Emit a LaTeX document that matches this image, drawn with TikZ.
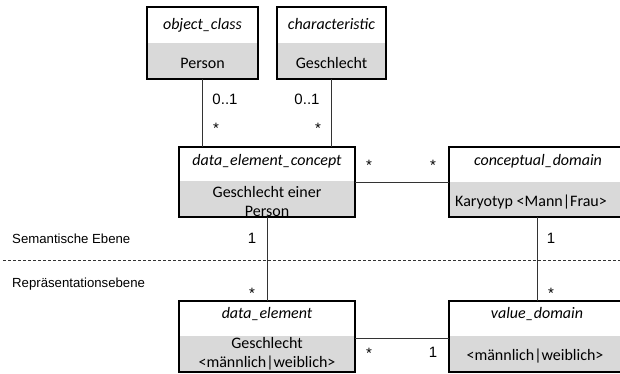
\documentclass[tikz,border=0pt]{standalone}
\usepackage{fontspec}
\setmainfont{Liberation Sans}
\newfontfamily\boxfont{Carlito}
\definecolor{boxgray}{HTML}{D9D9D9}
\definecolor{linegray}{HTML}{333333}
\tikzset{
  umlbox/.style={draw=black, line width=1.7pt, rectangle, inner sep=0pt, outer sep=0pt},
  boxtitle/.style={font=\boxfont\itshape\fontsize{16}{19.5}\selectfont, anchor=base, inner sep=0pt, align=center},
  boxtext/.style={font=\boxfont\fontsize{16}{19}\selectfont, anchor=base, inner sep=0pt, align=center},
  mult/.style={font=\fontsize{15}{17}\selectfont, anchor=base, inner sep=0pt},
  lvl/.style={font=\fontsize{13.2}{16}\selectfont, anchor=base west, inner sep=0pt},
  conn/.style={draw=linegray, line width=1pt},
}
\begin{document}
\begin{tikzpicture}[x=1pt, y=-1pt]
\useasboundingbox (0,0) rectangle (620,373);
% gray lower parts
\fill[boxgray] (147,43) rectangle (258,79);
\fill[boxgray] (277,43) rectangle (386,79);
\fill[boxgray] (179,181) rectangle (355,217);
\fill[boxgray] (449,182) rectangle (625,217);
\fill[boxgray] (179,336) rectangle (355,372);
\fill[boxgray] (449,336) rectangle (625,372);
% box frames
\node[umlbox, minimum width=111pt, minimum height=72pt] (oc) at (202.5,43) {};
\node[umlbox, minimum width=109pt, minimum height=72pt] (ch) at (331.5,43) {};
\node[umlbox, minimum width=176pt, minimum height=70pt] (dec) at (267,182) {};
\node[umlbox, minimum width=176pt, minimum height=70pt] (cd) at (537,182) {};
\node[umlbox, minimum width=176pt, minimum height=71pt] (de) at (267,336.5) {};
\node[umlbox, minimum width=176pt, minimum height=71pt] (vd) at (537,336.5) {};
% box texts
\node[boxtitle] (oct) at (202.5,29) {object\_class};
\node[boxtext] (occ) at (202.5,68) {Person};
\node[boxtitle] (cht) at (331.5,29) {characteristic};
\node[boxtext] (chc) at (331.5,68) {Geschlecht};
\node[boxtitle] (dect) at (267,165) {data\_element\_concept};
\node[boxtext] (decc) at (267,216) {Geschlecht einer\\Person};
\node[boxtitle] (cdt) at (538,165) {conceptual\_domain};
\node[boxtext] (cdc) at (531,206) {Karyotyp <Mann|Frau>};
\node[boxtitle] (det) at (267,318) {data\_element};
\node[boxtext] (dec2) at (267,367) {Geschlecht\\<männlich|weiblich>};
\node[boxtitle] (vdt) at (537,318) {value\_domain};
\node[boxtext] (vdc) at (535,360) {<männlich|weiblich>};
% connectors
\draw[conn] (oc.south) -- (oc.south |- dec.north);
\draw[conn] (ch.south) -- (ch.south |- dec.north);
\draw[conn] (dec.east) -- (dec.east -| cd.west);
\draw[conn] (dec.south) -- (de.north);
\draw[conn] (cd.south) -- (vd.north);
\draw[conn] ([yshift=-1.5pt]de.east) -- ([yshift=-1.5pt]de.east -| vd.west);
% level separator
\coordinate (sepL) at (3,260);
\coordinate (sepR) at (620,260);
\draw[draw=linegray, line width=0.9pt, dash pattern=on 3pt off 2pt] (sepL) -- (sepR);
\node[lvl] (sem) at (12,243.5) {Semantische Ebene};
\node[lvl] (rep) at (12,287) {Repräsentationsebene};
% multiplicities
\node[mult] (m1) at (225,104) {0..1};
\node[mult] (m2) at (216,133.5) {*};
\node[mult] (m3) at (307,104) {0..1};
\node[mult] (m4) at (318,133.5) {*};
\node[mult] (m5) at (369,170) {*};
\node[mult] (m6) at (433,170) {*};
\node[mult] (m7) at (252,243.5) {1};
\node[mult] (m8) at (551,243.5) {1};
\node[mult] (m9) at (252,298) {*};
\node[mult] (m10) at (551,298) {*};
\node[mult] (m11) at (369,358.5) {*};
\node[mult] (m12) at (433,357) {1};
\end{tikzpicture}
\end{document}
